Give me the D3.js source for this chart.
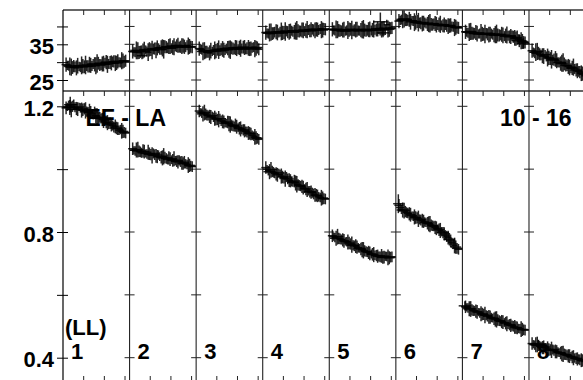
<!DOCTYPE html>
<html><head><meta charset="utf-8">
<script src="https://cdn.jsdelivr.net/npm/d3@7"></script>
<style>
body{margin:0;background:#fff}
svg{display:block}
text{font-family:"Liberation Sans",Arial,sans-serif;font-weight:bold;fill:#000}
</style></head><body>
<svg id="c" width="583" height="380"></svg>
<script>
// ---- data ----
const segments = ["1","2","3","4","5","6","7","8"];
const topTicks = [25, 30, 35, 40];
const topLabels = [25, 35];
const botTicks = [0.4, 0.6, 0.8, 1.0, 1.2];
const botLabels = [0.4, 0.8, 1.2];
const xTicks = [1, 2, 3];
const xPos = [0.15,0.27,0.40,0.52,0.65,0.78,0.90,1.03,1.15,1.28,1.40,1.53,1.65,1.78,1.90,2.03,2.15,2.28,2.40,2.53,2.65,2.78,2.90,3.03];
const xPos2 = [0.21,0.33,0.46,0.58,0.71,0.84,0.96,1.09,1.21,1.34,1.46,1.59,1.71,1.84,1.96,2.09,2.21,2.34,2.46,2.59,2.71,2.84,2.96];
const xErr = [0.22,0.15,0.28,0.18,0.13,0.25,0.16,0.20,0.30,0.14,0.19,0.24,0.15,0.27,0.18,0.22,0.14,0.29,0.19,0.16,0.23,0.15,0.26,0.18];
const yErrTop = [2.0,1.4,2.4,1.7,2.1,1.3,2.5,1.8,1.5,2.2,1.4,2.0,2.6,1.7,2.1,1.4,2.4,1.8,1.5,2.2,2.0,1.4,2.1,1.7];
const yErrBot = [0.020,0.015,0.025,0.017,0.021,0.013,0.024,0.018,0.016,0.022,0.015,0.020,0.026,0.017,0.021,0.014,0.024,0.018,0.016,0.022,0.020,0.015,0.021,0.017];

const top1 = [29.3,29.0,28.6,28.9,28.4,28.8,29.1,28.7,29.0,29.3,28.9,29.4,29.6,29.2,29.5,29.8,29.4,29.9,30.1,29.7,30.2,29.9,30.3,30.4];
const top2 = [33.0,32.8,33.2,32.9,33.1,33.4,32.8,33.5,33.7,33.3,33.9,34.1,33.6,34.2,34.4,33.9,34.3,34.6,34.2,34.5,34.3,34.7,34.4,34.2];
const top3 = [33.8,33.5,33.2,32.9,32.6,33.0,33.3,33.6,33.2,33.7,33.4,33.9,33.5,33.8,34.1,33.6,33.9,34.2,33.7,34.0,33.8,34.2,33.9,33.6];
const top4 = [38.3,38.0,38.4,38.1,38.5,38.2,38.6,38.3,38.7,38.5,38.8,38.4,38.9,38.6,39.0,38.7,39.1,38.8,39.2,38.9,39.1,39.3,39.0,39.2];
const top5 = [39.2,38.9,39.1,38.8,39.0,38.7,39.0,39.2,38.8,39.1,38.9,39.0,39.2,38.8,39.1,38.9,39.3,39.0,39.4,39.1,39.5,40.5,39.2,39.6];
const top6 = [41.5,41.9,42.1,41.8,42.0,41.6,41.2,41.4,41.0,40.8,41.1,40.7,40.9,40.5,40.8,40.4,40.6,40.2,40.5,40.1,40.3,39.9,39.8,39.6];
const top7 = [38.5,38.2,38.6,38.0,38.3,37.9,38.2,37.8,38.1,37.7,38.0,37.6,37.9,37.5,37.8,37.3,37.6,37.1,37.4,36.8,36.9,36.2,35.8,35.5];
const top8 = [33.2,32.5,33.0,32.2,31.8,32.1,31.3,31.0,30.6,30.9,30.0,29.6,29.9,29.1,28.8,28.3,28.6,27.8,27.4,26.9,26.6,25.9,25.4,24.9];
const top1b = [29.1,28.8,28.5,28.7,29.0,28.6,28.9,29.2,28.8,29.1,29.5,29.0,29.7,29.3,29.6,30.0,29.5,29.8,30.2,29.8,30.0,30.4,30.1];
const top2b = [32.9,33.3,32.7,33.2,33.5,33.0,33.6,33.4,33.8,34.0,33.5,34.0,34.3,34.0,34.5,34.1,34.4,34.7,34.3,34.6,34.2,34.5,34.3];
const top3b = [33.6,33.0,32.8,32.7,33.2,33.4,33.1,33.5,33.6,33.3,33.8,33.6,34.0,33.7,33.9,34.0,33.8,34.1,33.9,33.7,34.0,33.8,34.1];
const top4b = [38.1,38.3,38.0,38.4,38.3,38.5,38.2,38.6,38.4,38.7,38.5,38.7,38.8,38.7,38.9,38.8,39.0,39.1,38.9,39.2,39.0,39.1,39.3];
const top5b = [39.0,39.2,38.9,38.8,39.1,38.9,39.1,39.0,38.9,39.2,38.8,39.1,39.0,38.9,39.2,39.0,39.1,39.3,39.2,39.4,39.0,39.3,39.5];
const top6b = [41.7,42.0,41.9,41.7,41.3,41.5,41.1,41.2,40.9,40.9,40.8,40.8,40.6,40.7,40.5,40.5,40.3,40.4,40.2,40.2,40.0,39.7,39.7];
const top7b = [38.4,38.4,38.1,38.1,38.0,38.0,37.9,37.9,37.8,37.8,37.7,37.7,37.6,37.6,37.5,37.4,37.4,37.2,37.1,36.6,36.4,36.0,35.6];
const top8b = [32.8,32.8,32.5,32.0,31.7,31.6,31.2,30.8,30.7,30.4,29.9,29.7,29.5,29.0,28.5,28.4,28.1,27.6,27.2,26.8,26.2,25.7,25.2];

const bot1 = [1.195,1.203,1.190,1.205,1.193,1.198,1.188,1.192,1.183,1.186,1.176,1.179,1.168,1.165,1.158,1.156,1.148,1.146,1.139,1.136,1.129,1.126,1.120,1.115];
const bot2 = [1.065,1.058,1.062,1.055,1.058,1.050,1.054,1.046,1.050,1.042,1.045,1.038,1.041,1.034,1.036,1.030,1.033,1.025,1.028,1.020,1.022,1.015,1.012,1.008];
const bot3 = [1.185,1.178,1.180,1.172,1.168,1.170,1.162,1.158,1.160,1.152,1.148,1.150,1.142,1.138,1.140,1.132,1.128,1.125,1.120,1.115,1.112,1.105,1.100,1.095];
const bot4 = [1.005,0.995,0.998,0.990,0.985,0.988,0.978,0.972,0.975,0.965,0.960,0.962,0.952,0.948,0.945,0.938,0.935,0.928,0.925,0.918,0.915,0.910,0.908,0.905];
const bot5 = [0.788,0.782,0.785,0.778,0.775,0.770,0.768,0.762,0.758,0.755,0.750,0.746,0.742,0.738,0.735,0.730,0.728,0.725,0.722,0.724,0.720,0.722,0.718,0.721];
const bot6 = [0.885,0.872,0.868,0.862,0.858,0.852,0.848,0.845,0.840,0.836,0.832,0.828,0.825,0.820,0.815,0.810,0.805,0.798,0.790,0.782,0.772,0.762,0.752,0.745];
const bot7 = [0.562,0.558,0.555,0.550,0.548,0.545,0.540,0.538,0.535,0.530,0.528,0.524,0.522,0.518,0.515,0.512,0.508,0.505,0.502,0.498,0.495,0.492,0.490,0.488];
const bot8 = [0.445,0.440,0.442,0.436,0.432,0.434,0.428,0.425,0.426,0.420,0.418,0.415,0.412,0.410,0.406,0.404,0.400,0.398,0.395,0.392,0.390,0.386,0.383,0.380];
const bot1b = [1.198,1.196,1.200,1.197,1.191,1.195,1.189,1.187,1.181,1.180,1.172,1.170,1.163,1.161,1.153,1.150,1.143,1.141,1.134,1.131,1.124,1.122,1.117];
const bot2b = [1.060,1.061,1.057,1.052,1.056,1.048,1.049,1.044,1.046,1.040,1.040,1.036,1.037,1.031,1.032,1.028,1.027,1.023,1.024,1.018,1.017,1.013,1.010];
const bot3b = [1.181,1.176,1.175,1.171,1.166,1.165,1.160,1.159,1.154,1.150,1.146,1.145,1.140,1.136,1.135,1.130,1.126,1.122,1.118,1.114,1.108,1.103,1.098];
const bot4b = [1.000,0.992,0.993,0.987,0.982,0.983,0.975,0.970,0.969,0.963,0.958,0.956,0.950,0.946,0.941,0.937,0.931,0.927,0.921,0.917,0.912,0.909,0.906];
const bot5b = [0.785,0.780,0.780,0.776,0.772,0.769,0.765,0.760,0.756,0.752,0.748,0.744,0.740,0.736,0.732,0.729,0.726,0.723,0.721,0.719,0.723,0.719,0.720];
const bot6b = [0.878,0.870,0.865,0.860,0.855,0.850,0.846,0.842,0.838,0.834,0.830,0.826,0.822,0.818,0.812,0.807,0.801,0.794,0.786,0.777,0.767,0.757,0.748];
const bot7b = [0.560,0.556,0.552,0.549,0.546,0.542,0.539,0.536,0.532,0.529,0.526,0.523,0.520,0.516,0.513,0.510,0.506,0.503,0.500,0.496,0.493,0.491,0.489];
const bot8b = [0.443,0.441,0.439,0.434,0.433,0.431,0.426,0.425,0.423,0.419,0.416,0.413,0.411,0.408,0.405,0.402,0.399,0.396,0.393,0.391,0.388,0.385,0.382];

const topSeries = [top1,top2,top3,top4,top5,top6,top7,top8];
const botSeries = [bot1,bot2,bot3,bot4,bot5,bot6,bot7,bot8];
const topSeriesB = [top1b,top2b,top3b,top4b,top5b,top6b,top7b,top8b];
const botSeriesB = [bot1b,bot2b,bot3b,bot4b,bot5b,bot6b,bot7b,bot8b];
// a few larger crosses: [segment index, x, value, xErr, yErr]
const topExtra = [[4, 2.47, 41.3, 0.35, 2.6], [4, 2.60, 38.2, 0.30, 1.2], [6, 2.75, 36.0, 0.35, 1.8], [6, 2.95, 35.2, 0.30, 1.5], [1, 0.60, 31.8, 0.25, 1.0]];
const botExtra = [[0, 0.35, 1.205, 0.30, 0.025], [5, 0.12, 0.890, 0.25, 0.030], [6, 0.12, 0.565, 0.30, 0.015], [7, 0.45, 0.444, 0.35, 0.012]];

// ---- layout ----
const svg = d3.select("#c");
const left = 63, segW = 66.57, segDom = 3.22, n = segments.length;
const yA = 10, yB = 91, yC = 383;
const x = d3.scaleLinear().domain([0, n*segDom]).range([left, left + n*segW]);
const yT = d3.scaleLinear().domain([25, 35]).range([80, 44.3]);
const yL = d3.scaleLinear().domain([0.4, 1.2]).range([357.7, 106.3]);
const segX = k => x(k*segDom);

// texts (under the data)
svg.append("text").attr("x", 85.5).attr("y", 126).attr("font-size", 23).text("EF - LA");
svg.append("text").attr("x", 500).attr("y", 126).attr("font-size", 23).text("10 - 16");
svg.append("text").attr("x", 65).attr("y", 334.5).attr("font-size", 22).text("(LL)");
segments.forEach((s, k) => {
  svg.append("text").attr("x", segX(k) + 8).attr("y", 359).attr("font-size", 22).text(s);
});

// frame
const g = svg.append("g").attr("fill", "none");
g.append("line").attr("x1", left).attr("x2", 583).attr("y1", yA).attr("y2", yA).attr("stroke", "#333").attr("stroke-width", 1.3);
g.append("line").attr("x1", left).attr("x2", 583).attr("y1", yB).attr("y2", yB).attr("stroke", "#666").attr("stroke-width", 2);
for (let k = 1; k < n; k++) {
  g.append("line").attr("x1", segX(k)).attr("x2", segX(k)).attr("y1", yA).attr("y2", yC).attr("stroke", "#222").attr("stroke-width", 1.1);
}
// y ticks on separators
for (let k = 1; k < n; k++) {
  const cx = segX(k);
  topTicks.forEach(v => g.append("line").attr("x1", cx-5).attr("x2", cx+5).attr("y1", yT(v)).attr("y2", yT(v)).attr("stroke", "#222"));
  botTicks.forEach(v => g.append("line").attr("x1", cx-5).attr("x2", cx+5).attr("y1", yL(v)).attr("y2", yL(v)).attr("stroke", "#222"));
}
// x ticks
for (let k = 0; k < n; k++) {
  xTicks.forEach(t => {
    const px = x(k*segDom + t);
    g.append("line").attr("x1", px).attr("x2", px).attr("y1", yA).attr("y2", yA+5).attr("stroke", "#222");
    g.append("line").attr("x1", px).attr("x2", px).attr("y1", yB).attr("y2", yB+5).attr("stroke", "#222");
    g.append("line").attr("x1", px).attr("x2", px).attr("y1", yC).attr("y2", yC-7).attr("stroke", "#222");
  });
}

// left axes
function leftAxis(scale, ticks, labels, y0, y1) {
  const ax = svg.append("g").attr("transform", `translate(${left},0)`)
    .call(d3.axisLeft(scale).tickValues(ticks).tickSizeInner(6).tickSizeOuter(0).tickPadding(3)
      .tickFormat(v => labels.includes(v) ? String(v % 1 === 0 ? v : v.toFixed(1)) : ""));
  ax.select(".domain").remove();
  ax.selectAll(".tick line").attr("stroke", "#000").attr("x2", -6).attr("x1", 5);
  ax.selectAll(".tick text").attr("font-size", 22).attr("font-family", "Liberation Sans, Arial, sans-serif")
    .attr("font-weight", "bold").attr("fill", "#000").attr("dy", 9);
  ax.append("line").attr("x1", 0).attr("x2", 0).attr("y1", y0).attr("y2", y1).attr("stroke", "#000").attr("stroke-width", 1.2);
}
leftAxis(yT, topTicks, topLabels, yA, yB);
leftAxis(yL, botTicks, botLabels, yB, yC);

// data crosses
function cross(gg, px, xe, cy, ye, ys) {
  gg.append("line").attr("x1", x(px - xe)).attr("x2", x(px + xe)).attr("y1", ys(cy)).attr("y2", ys(cy));
  gg.append("line").attr("x1", x(px)).attr("x2", x(px)).attr("y1", ys(cy - ye)).attr("y2", ys(cy + ye));
}
const dg = svg.append("g").attr("stroke", "#000").attr("stroke-width", 1.5).attr("stroke-opacity", 0.85);
topSeries.forEach((arr, k) => arr.forEach((v, i) => cross(dg, k*segDom + xPos[i], xErr[i], v, yErrTop[i], yT)));
botSeries.forEach((arr, k) => arr.forEach((v, i) => cross(dg, k*segDom + xPos[i], xErr[i], v, yErrBot[i], yL)));
topSeriesB.forEach((arr, k) => arr.forEach((v, i) => cross(dg, k*segDom + xPos2[i], xErr[(i+7)%24], v, yErrTop[(i+5)%24], yT)));
botSeriesB.forEach((arr, k) => arr.forEach((v, i) => cross(dg, k*segDom + xPos2[i], xErr[(i+7)%24], v, yErrBot[(i+5)%24], yL)));
topExtra.forEach(e => cross(dg, e[0]*segDom + e[1], e[3], e[2], e[4], yT));
botExtra.forEach(e => cross(dg, e[0]*segDom + e[1], e[3], e[2], e[4], yL));
</script></body></html>
